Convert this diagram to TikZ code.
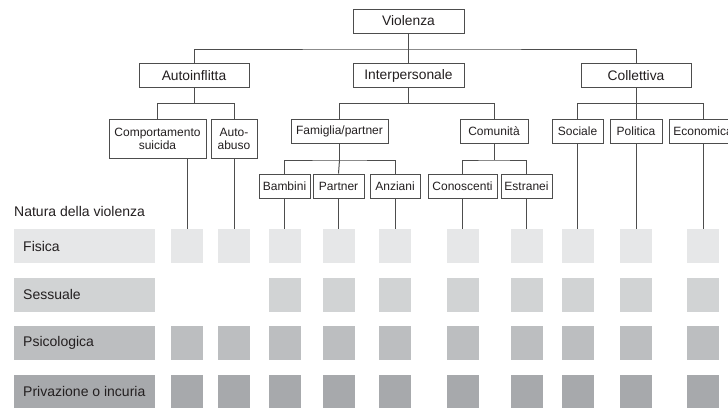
\documentclass[tikz,border=0pt]{standalone}
\usepackage{fontspec}
\setmainfont{Liberation Sans}
\definecolor{txt}{HTML}{231F20}
\definecolor{ln}{HTML}{4D4D4D}
\definecolor{rA}{HTML}{E6E7E8}
\definecolor{rB}{HTML}{D1D3D4}
\definecolor{rC}{HTML}{BCBEC0}
\definecolor{rD}{HTML}{A7A9AC}
\tikzset{
  box/.style={draw=ln, line width=1pt, fill=white, text=txt, inner sep=0pt, align=center},
  bigbox/.style={box, minimum height=24pt, font=\fontsize{13.8}{15}\selectfont},
  smallbox/.style={box, minimum height=24pt, font=\fontsize{12}{13}\selectfont},
  conn/.style={draw=ln, line width=1pt},
  sq/.style={minimum width=32pt, minimum height=34pt, inner sep=0pt},
  band/.style={minimum height=34pt, inner ysep=0pt, inner xsep=9pt, anchor=west, text=txt,
    font=\fontsize{14}{16}\selectfont},
}
\begin{document}
\begin{tikzpicture}[x=1pt,y=-1pt]
\useasboundingbox (0,0) rectangle (728,407);
\clip (0,0) rectangle (728,407);
% row labels
\node[text=txt, anchor=west, font=\fontsize{14}{16}\selectfont, inner sep=0pt] (nat) at (14,211) {Natura della violenza};
\foreach \r/\y/\c/\t in {1/246/rA/Fisica, 2/294.5/rB/Sessuale, 3/343/rC/Psicologica, 4/391.5/rD/Privazione o incuria}{
  \node[band, fill=\c] (lab\r) at (14,\y) {\makebox[123pt][l]{\t}};
}
% squares
\foreach \col/\x in {1/187, 2/234, 3/284.5, 4/338.5, 5/395, 6/462.5, 7/526.5, 8/577.5, 9/636, 10/703}{
  \node[sq, fill=rA] (s1-\col) at (\x,246) {};
  \node[sq, fill=rC] (s3-\col) at (\x,343) {};
  \node[sq, fill=rD] (s4-\col) at (\x,391.5) {};
}
\foreach \col/\x in {3/284.5, 4/338.5, 5/395, 6/462.5, 7/526.5, 8/577.5, 9/636, 10/703}{
  \node[sq, fill=rB] (s2-\col) at (\x,294.5) {};
}
% tree nodes
\node[bigbox, minimum width=111pt] (viol) at (408.5,21) {Violenza};
\node[bigbox, minimum width=110pt] (auto) at (194,75.5) {Autoinflitta};
\node[bigbox, minimum width=111pt] (inter) at (408.5,75.5) {Interpersonale};
\node[bigbox, minimum width=110pt] (coll) at (636,75.5) {Collettiva};
\node[smallbox, minimum width=97pt, minimum height=39pt] (comp) at (157.5,138.5) {Comportamento\\suicida};
\node[smallbox, minimum width=46pt, minimum height=39pt] (aab) at (234,138.5) {Auto-\\abuso};
\node[smallbox, minimum width=97pt] (fam) at (339.5,131) {Famiglia/partner};
\node[smallbox, minimum width=68pt] (comu) at (494,131) {Comunità};
\node[smallbox, minimum width=51pt] (soc) at (577.5,131) {Sociale};
\node[smallbox, minimum width=52pt] (pol) at (636,131) {Politica};
\node[smallbox, minimum width=68pt] (eco) at (703,131) {Economica};
\node[smallbox, minimum width=51pt] (bam) at (284.5,186) {Bambini};
\node[smallbox, minimum width=51pt] (par) at (338.5,186) {Partner};
\node[smallbox, minimum width=50pt] (anz) at (395,186) {Anziani};
\node[smallbox, minimum width=69pt] (con) at (462.5,186) {Conoscenti};
\node[smallbox, minimum width=51pt] (est) at (526.5,186) {Estranei};
% junctions
\coordinate (b1) at (408.5,49);
\coordinate (b2) at (194,103.5);
\coordinate (b3) at (408.5,103.5);
\coordinate (b4) at (636,103.5);
\coordinate (b5) at (339.5,160);
\coordinate (b6) at (494,160);
% connectors
\draw[conn] (viol.south) -- (b1);
\draw[conn] (auto.north) |- (b1) -| (coll.north);
\draw[conn] (b1) -- (inter.north);
\draw[conn] (auto.south) -- (b2);
\draw[conn] (comp.north) |- (b2) -| (aab.north);
\draw[conn] (inter.south) -- (b3);
\draw[conn] (fam.north) |- (b3) -| (comu.north);
\draw[conn] (coll.south) -- (b4);
\draw[conn] (soc.north) |- (b4) -| (eco.north);
\draw[conn] (b4) -- (pol.north);
\draw[conn] (fam.south) -- (b5);
\draw[conn] (bam.north) |- (b5) -| (anz.north);
\draw[conn] (b5) -- (par.north);
\draw[conn] (comu.south) -- (b6);
\draw[conn] (con.north) |- (b6) -| (est.north);
% leaves to grid
\draw[conn] (s1-1.north |- comp.south) -- (s1-1.north);
\draw[conn] (aab.south) -- (s1-2.north);
\draw[conn] (bam.south) -- (s1-3.north);
\draw[conn] (par.south) -- (s1-4.north);
\draw[conn] (anz.south) -- (s1-5.north);
\draw[conn] (con.south) -- (s1-6.north);
\draw[conn] (est.south) -- (s1-7.north);
\draw[conn] (soc.south) -- (s1-8.north);
\draw[conn] (pol.south) -- (s1-9.north);
\draw[conn] (eco.south) -- (s1-10.north);
\end{tikzpicture}
\end{document}
